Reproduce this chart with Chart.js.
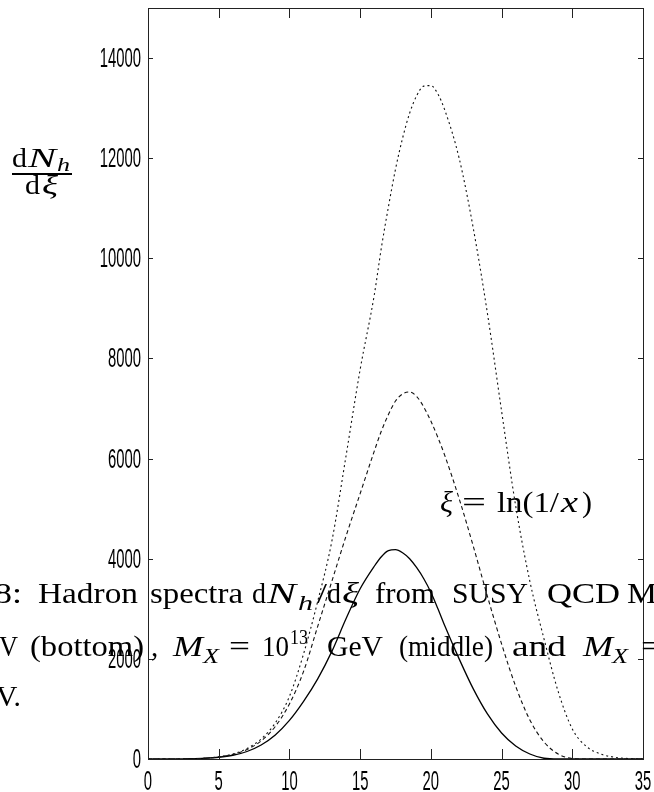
<!DOCTYPE html>
<html>
<head>
<meta charset="utf-8">
<script src="https://cdn.jsdelivr.net/npm/chart.js@4.4.1/dist/chart.umd.min.js"></script>
<style>
  html, body { margin: 0; padding: 0; background: #fff; }
  #wrap { position: relative; width: 654px; height: 792px; overflow: hidden; }
  #wrap canvas, #wrap svg { position: absolute; left: 0; top: 0; }
  #notes text { font-family: 'Liberation Serif', 'DejaVu Serif', serif; fill: #000; }
  #notes .m { font-style: italic; }
</style>
</head>
<body>
<div id="wrap">
  <canvas id="spectra" width="654" height="792"></canvas>
  <svg id="notes" width="654" height="792">
    <!-- y quantity, as a fraction -->
    <g font-size="27" lengthAdjust="spacingAndGlyphs">
      <text x="12" y="167" textLength="15" lengthAdjust="spacingAndGlyphs">d</text>
      <text class="m" x="28" y="167" textLength="28" lengthAdjust="spacingAndGlyphs">N</text>
      <text class="m" x="57" y="171" font-size="19" textLength="13" lengthAdjust="spacingAndGlyphs">h</text>
      <rect x="12" y="173" width="60" height="2" fill="#000"></rect>
      <text x="25" y="194" textLength="15" lengthAdjust="spacingAndGlyphs">d</text>
      <text class="m" x="42" y="194" textLength="16" lengthAdjust="spacingAndGlyphs">ξ</text>
    </g>
    <!-- x quantity -->
    <g font-size="30">
      <text class="m" x="440" y="512" textLength="13" lengthAdjust="spacingAndGlyphs">ξ</text>
      <text x="462" y="512" textLength="24" lengthAdjust="spacingAndGlyphs">=</text>
      <text x="497" y="512" textLength="62" lengthAdjust="spacingAndGlyphs">ln(1/</text>
      <text class="m" x="561" y="512" textLength="17" lengthAdjust="spacingAndGlyphs">x</text>
      <text x="582" y="512" textLength="10" lengthAdjust="spacingAndGlyphs">)</text>
    </g>
    <!-- caption of the page, running across the figure -->
    <g font-size="29">
      <text x="-6" y="603" textLength="28" lengthAdjust="spacingAndGlyphs">8:</text>
      <text x="38" y="603" textLength="100" lengthAdjust="spacingAndGlyphs">Hadron</text>
      <text x="150" y="603" textLength="93" lengthAdjust="spacingAndGlyphs">spectra</text>
      <text x="252" y="603" textLength="14" lengthAdjust="spacingAndGlyphs">d</text>
      <text class="m" x="267" y="603" textLength="29" lengthAdjust="spacingAndGlyphs">N</text>
      <text class="m" x="298" y="610" font-size="20" textLength="15" lengthAdjust="spacingAndGlyphs">h</text>
      <text x="317" y="603" textLength="10" lengthAdjust="spacingAndGlyphs">/</text>
      <text x="327" y="603" textLength="14" lengthAdjust="spacingAndGlyphs">d</text>
      <text class="m" x="342" y="603" textLength="17" lengthAdjust="spacingAndGlyphs">ξ</text>
      <text x="375" y="603" textLength="60" lengthAdjust="spacingAndGlyphs">from</text>
      <text x="452" y="603" textLength="76" lengthAdjust="spacingAndGlyphs">SUSY</text>
      <text x="547" y="603" textLength="73" lengthAdjust="spacingAndGlyphs">QCD</text>
      <text x="627" y="603" textLength="30" lengthAdjust="spacingAndGlyphs">M</text>

      <text x="-1" y="656" textLength="19" lengthAdjust="spacingAndGlyphs">V</text>
      <text x="30" y="656" textLength="114" lengthAdjust="spacingAndGlyphs">(bottom)</text>
      <text x="151" y="656">,</text>
      <text class="m" x="173" y="656" textLength="30" lengthAdjust="spacingAndGlyphs">M</text>
      <text class="m" x="203" y="663" font-size="20" textLength="16" lengthAdjust="spacingAndGlyphs">X</text>
      <text x="229" y="656" textLength="21" lengthAdjust="spacingAndGlyphs">=</text>
      <text x="262" y="656" textLength="27" lengthAdjust="spacingAndGlyphs">10</text>
      <text x="290" y="644" font-size="20" textLength="18" lengthAdjust="spacingAndGlyphs">13</text>
      <text x="327" y="656" textLength="56" lengthAdjust="spacingAndGlyphs">GeV</text>
      <text x="399" y="656" textLength="94" lengthAdjust="spacingAndGlyphs">(middle)</text>
      <text x="512" y="656" textLength="54" lengthAdjust="spacingAndGlyphs">and</text>
      <text class="m" x="583" y="656" textLength="30" lengthAdjust="spacingAndGlyphs">M</text>
      <text class="m" x="612" y="663" font-size="20" textLength="16" lengthAdjust="spacingAndGlyphs">X</text>
      <text x="641" y="656" textLength="21" lengthAdjust="spacingAndGlyphs">=</text>

      <text x="-4" y="706" textLength="25" lengthAdjust="spacingAndGlyphs">V.</text>
    </g>
  </svg>
</div>
<script>
// xi = ln(1/x), finer steps round the peaks
const xi = [0, 1, 2, 3, 4, 5, 6, 7, 8, 9, 10, 11, 12, 13, 14, 15, 16,
  16.5, 17, 17.5, 18, 18.5, 19, 19.5, 20, 20.5, 21,
  22, 23, 24, 25, 26, 27, 28, 29, 30, 31, 32, 33, 34, 35];

// dN_h/dxi
const bottomSpectrum = [0, 0, 0, 5, 15, 35, 75, 150, 280, 480, 770, 1150, 1600, 2150, 2800, 3400, 3850,
  4040, 4160, 4180, 4120, 4000, 3820, 3600, 3330, 3000, 2650,
  2000, 1400, 900, 520, 260, 100, 15, 0, 0, 0, 0, 0, 0, 0];
const middleSpectrum = [0, 0, 0, 5, 15, 40, 90, 190, 360, 650, 1100, 1750, 2650, 3550, 4450, 5300, 6150,
  6550, 6880, 7150, 7290, 7330, 7240, 7030, 6750, 6420, 6050,
  5200, 4250, 3250, 2300, 1450, 780, 340, 100, 10, 0, 0, 0, 0, 0];
const topSpectrum = [0, 0, 0, 5, 15, 45, 100, 210, 400, 720, 1250, 2100, 3150, 4350, 6050, 7780, 9270,
  10210, 11030, 11780, 12400, 12900, 13250, 13440, 13450, 13280, 12950,
  12000, 10600, 8900, 6950, 5050, 3550, 2400, 1350, 600, 250, 100, 35, 8, 0];

const xTicks = [0, 5, 10, 15, 20, 25, 30, 35];
const yTicks = [0, 2000, 4000, 6000, 8000, 10000, 12000, 14000];

const toPoints = (ys) => xi.map((x, i) => ({ x: x, y: ys[i] }));

// matlab-like box: inward ticks on all four sides, tall narrow labels
const boxAxes = {
  id: 'boxAxes',
  afterDatasetsDraw(chart) {
    const { ctx, chartArea: a, scales: { x, y } } = chart;
    ctx.save();
    ctx.strokeStyle = '#222';
    ctx.lineWidth = 1;
    ctx.strokeRect(a.left + 0.5, a.top + 0.5, a.right - a.left, a.bottom - a.top);
    ctx.beginPath();
    x.ticks.forEach(t => {
      const px = Math.round(x.getPixelForValue(t.value)) + 0.5;
      ctx.moveTo(px, a.bottom); ctx.lineTo(px, a.bottom - 10);
      ctx.moveTo(px, a.top); ctx.lineTo(px, a.top + 10);
    });
    y.ticks.forEach(t => {
      const py = Math.round(y.getPixelForValue(t.value)) + 0.5;
      ctx.moveTo(a.left, py); ctx.lineTo(a.left + 5, py);
      ctx.moveTo(a.right, py); ctx.lineTo(a.right - 5, py);
    });
    ctx.stroke();

    ctx.fillStyle = '#000';
    ctx.font = '27px "Liberation Sans", Arial, sans-serif';
    ctx.textBaseline = 'alphabetic';
    ctx.textAlign = 'right';
    y.ticks.forEach(t => {
      ctx.save();
      ctx.translate(a.left - 7, y.getPixelForValue(t.value) + 9);
      ctx.scale(0.55, 1);
      ctx.fillText(String(t.value), 0, 0);
      ctx.restore();
    });
    ctx.textAlign = 'center';
    x.ticks.forEach(t => {
      ctx.save();
      ctx.translate(x.getPixelForValue(t.value), a.bottom + 31);
      ctx.scale(0.55, 1);
      ctx.fillText(String(t.value), 0, 0);
      ctx.restore();
    });
    ctx.restore();
  }
};

const ctx = document.getElementById('spectra').getContext('2d');
new Chart(ctx, {
  type: 'line',
  data: {
    datasets: [
      { label: 'top', data: toPoints(topSpectrum), borderColor: '#111', borderWidth: 1.1, borderDash: [2, 3] },
      { label: 'middle', data: toPoints(middleSpectrum), borderColor: '#111', borderWidth: 1.1, borderDash: [4, 3] },
      { label: 'bottom', data: toPoints(bottomSpectrum), borderColor: '#000', borderWidth: 1.3 }
    ]
  },
  options: {
    responsive: false,
    animation: false,
    layout: { padding: { left: 148, right: 11, top: 8, bottom: 33 } },
    elements: {
      point: { radius: 0 },
      line: { cubicInterpolationMode: 'monotone', fill: false }
    },
    datasets: { line: { clip: false } },
    plugins: { legend: { display: false }, tooltip: { enabled: false } },
    scales: {
      x: {
        type: 'linear', min: 0, max: 35, display: false,
        afterBuildTicks: s => { s.ticks = xTicks.map(v => ({ value: v })); }
      },
      y: {
        type: 'linear', min: 0, max: 15000, display: false,
        afterBuildTicks: s => { s.ticks = yTicks.map(v => ({ value: v })); }
      }
    }
  },
  plugins: [boxAxes]
});
</script>
</body>
</html>
